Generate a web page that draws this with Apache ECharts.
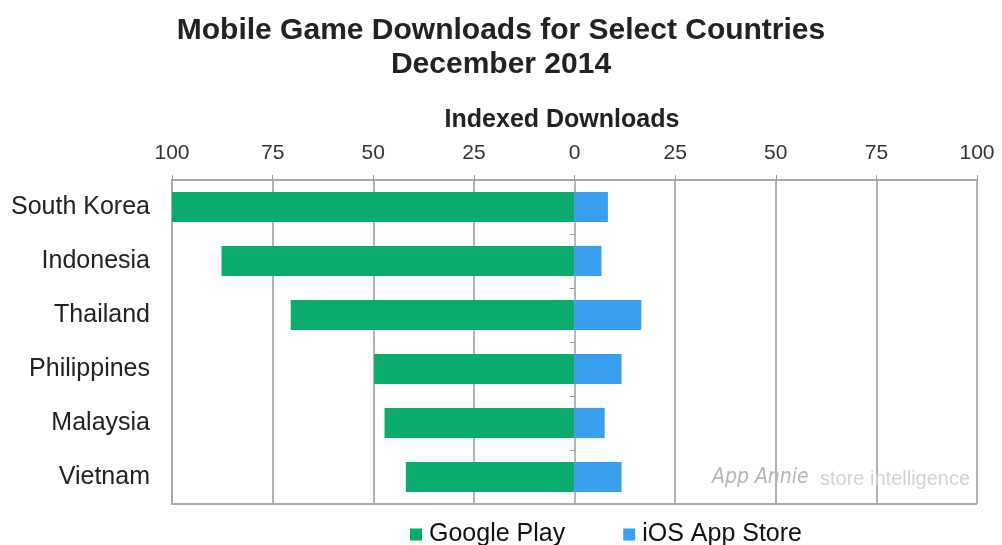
<!DOCTYPE html>
<html><head><meta charset="utf-8">
<script src="https://cdn.jsdelivr.net/npm/echarts@6/dist/echarts.min.js"></script>
<style>html,body{margin:0;padding:0;background:#fff}#c{width:1002px;height:545px}</style>
</head><body><div id="c"></div>
<script>
const countries = ['South Korea','Indonesia','Thailand','Philippines','Malaysia','Vietnam'];
const googlePlay = [100, 87.7, 70.5, 49.8, 47.2, 41.9];
const iosAppStore = [8.3, 6.7, 16.6, 11.7, 7.5, 11.7];

const FF = '"Liberation Sans", Arial, sans-serif';
const chart = echarts.init(document.getElementById('c'));
chart.setOption({
  animation:false,
  backgroundColor:'#fff',
  title:{
    text:'Mobile Game Downloads for Select Countries\nDecember 2014',
    left:'center', top:9,
    textStyle:{fontFamily:FF, fontWeight:'bold', fontSize:30, lineHeight:34, color:'#222'}
  },
  legend:{
    top:517, left:405, itemGap:58, itemWidth:12, itemHeight:12,
    icon:'rect',
    textStyle:{fontFamily:FF, fontSize:25, color:'#111', padding:[0,0,0,2]},
    data:['Google Play','iOS App Store']
  },
  grid:{left:172, right:25, top:180, bottom:41, containLabel:false},
  xAxis:{
    type:'value', position:'top', min:-100, max:100, interval:25,
    name:'Indexed Downloads', nameLocation:'middle', nameGap:47,
    nameTextStyle:{fontFamily:FF, fontWeight:'bold', fontSize:25, color:'#222', padding:[0,25,0,0]},
    axisLine:{show:true, lineStyle:{color:'#aaa', width:2}},
    axisTick:{show:true, length:5, lineStyle:{color:'#999'}},
    axisLabel:{fontFamily:FF, fontSize:21, color:'#333', margin:16,
      formatter:v=>String(Math.abs(v))},
    splitLine:{show:true, lineStyle:{color:'#999', width:1.5}}
  },
  yAxis:[{
    type:'category', data:countries, inverse:true,
    axisLine:{show:true, onZero:false, lineStyle:{color:'#aaa', width:2}},
    axisTick:{show:false},
    axisLabel:{fontFamily:FF, fontSize:25, color:'#222', margin:22}
  },{
    type:'category', data:countries, inverse:true, position:'left',
    axisLine:{show:true, onZero:true, lineStyle:{color:'#bbb', width:1}},
    axisTick:{show:true, length:5, lineStyle:{color:'#999'}},
    axisLabel:{show:false}
  }],
  graphic:[
    {type:'line', shape:{x1:172,y1:504,x2:977,y2:504}, style:{stroke:'#aaa', lineWidth:2}, z:10},
    {type:'text', left:712, top:467, style:{text:'App Annie', font:'italic 21px "Liberation Sans Narrow", "DejaVu Sans Condensed", sans-serif', fill:'#b5b5b5'}, z:1},
    {type:'text', left:820, top:469, style:{text:'store intelligence', font:'20px "Liberation Sans", sans-serif', fill:'#d2d2d2'}, z:1}
  ],
  series:[
    {name:'Google Play', type:'bar', stack:'s', barWidth:'56%', itemStyle:{color:'#0aab6c'},
      data:googlePlay.map(v=>-v)},
    {name:'iOS App Store', type:'bar', stack:'s', barWidth:'56%', itemStyle:{color:'#3b9ff0'},
      data:iosAppStore}
  ]
});
</script></body></html>
